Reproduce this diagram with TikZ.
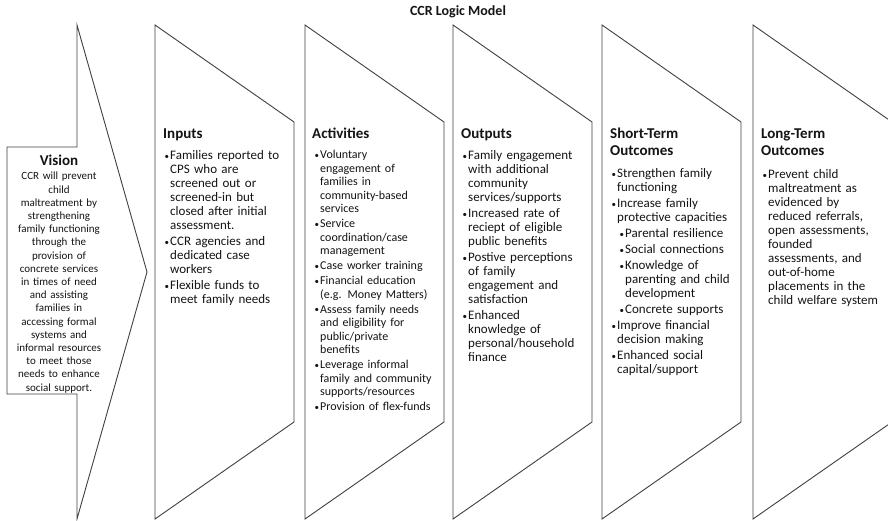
\documentclass[tikz,border=0pt]{standalone}
\usepackage{fontspec}
\setmainfont{Carlito}
\usetikzlibrary{positioning}
\tikzstyle{logicModel} = [x = 1pt, y = -1pt]
\definecolor{lineColor}{RGB}{64,64,64}
\definecolor{textColor}{RGB}{20,20,20}
\tikzstyle{shapeStyle} = [draw=lineColor, line width=0.9pt, fill=white]
\tikzstyle{titleText} = [font=\fontsize{14}{16}\selectfont\bfseries, text=textColor]
\tikzstyle{headText} = [font=\fontsize{15}{17}\selectfont\bfseries, text=textColor, text width=130pt, align=left, inner sep=0pt, anchor=base west]
\tikzstyle{listText} = [font=\fontsize{13}{14}\selectfont, text=textColor, text width=140pt, align=left, inner sep=0pt, anchor=base west, execute at begin node=\setlength{\parskip}{2pt}]
\tikzstyle{visionText} = [font=\fontsize{11}{13.2}\selectfont, text=textColor, text width=100pt, align=center, inner sep=0pt, anchor=base]
\newcommand{\slopeHeight}{97}
\newcommand{\boxWidth}{139}
\newcommand{\chevronBox}[1]{\filldraw [shapeStyle] (#1, 25) -- (#1 + \boxWidth, 25 + \slopeHeight) -- (#1 + \boxWidth, 519 - \slopeHeight) -- (#1, 519) -- cycle;}
\newcommand{\dotMark}{\makebox[6pt][l]{\hspace{0.3pt}\raisebox{0.7pt}{\fontsize{9}{9}\selectfont\textbullet}}}
\newcommand{\modelItem}[1]{\hangindent=6pt\hangafter=1\noindent\dotMark#1\par}
\newcommand{\modelSubItem}[1]{\hangindent=14pt\hangafter=1\noindent\hspace*{8pt}\dotMark#1\par}

\begin{document}
\begin{tikzpicture}[logicModel]
  \useasboundingbox (0, 0) rectangle (888, 521);
  \node [titleText] (title) at (458, 12) {CCR Logic Model};

  % vision arrow and the five columns
  \filldraw [shapeStyle] (7, 147) -- (77, 147) -- (77, 25) -- (147, 272) -- (77, 519) -- (77, 394) -- (7, 394) -- cycle;
  \foreach \boxLeft in {155, 305, 453, 602, 753} {
    \chevronBox{\boxLeft}
  }

  \node [headText, text width=90pt, align=center, anchor=base] (visionHead) at (59, 166) {Vision};
  \node [visionText] (visionBody) at (59, 180) {CCR will prevent\\ child\\ maltreatment by\\ strengthening\\ family functioning\\ through the\\ provision of\\ concrete services\\ in times of need\\ and assisting\\ families in\\ accessing formal\\ systems and\\ informal resources\\ to meet those\\ needs to enhance\\ social support.};

  % inputs
  \node [headText] (inputsHead) at (163, 139) {Inputs};
  \node [listText] (inputsList) at (164, 160) {
    \modelItem{Families reported to\newline CPS who are\newline screened out or\newline screened-in but\newline closed after initial\newline assessment.}
    \modelItem{CCR agencies and\newline dedicated case\newline workers}
    \modelItem{Flexible funds to\newline meet family needs}};

  % activities
  \node [headText] (activitiesHead) at (312, 139) {Activities};
  \node [listText, font=\fontsize{12}{13.5}\selectfont, execute at begin node=\setlength{\parskip}{1.5pt}] (activitiesList) at (314, 159) {
    \modelItem{Voluntary\newline engagement of\newline families in\newline community-based\newline services}
    \modelItem{Service\newline coordination/case\newline management}
    \modelItem{Case worker training}
    \modelItem{Financial education\newline (e.g. Money Matters)}
    \modelItem{Assess family needs\newline and eligibility for\newline public/private\newline benefits}
    \modelItem{Leverage informal\newline family and community\newline supports/resources}
    \modelItem{Provision of flex-funds}};

  % outputs
  \node [headText] (outputsHead) at (461, 139) {Outputs};
  \node [listText] (outputsList) at (462, 160) {
    \modelItem{Family engagement\newline with additional\newline community\newline services/supports}
    \modelItem{Increased rate of\newline reciept of eligible\newline public benefits}
    \modelItem{Postive perceptions\newline of family\newline engagement and\newline satisfaction}
    \modelItem{Enhanced\newline knowledge of\newline personal/household\newline finance}};

  % short-term outcomes
  \node [headText] (shortHead) at (610, 139) {Short-Term\\ Outcomes};
  \node [listText] (shortList) at (611, 178) {
    \modelItem{Strengthen family\newline functioning}
    \modelItem{Increase family\newline protective capacities}
    \modelSubItem{Parental resilience}
    \modelSubItem{Social connections}
    \modelSubItem{Knowledge of\newline parenting and child\newline development}
    \modelSubItem{Concrete supports}
    \modelItem{Improve financial\newline decision making}
    \modelItem{Enhanced social\newline capital/support}};

  % long-term outcomes
  \node [headText] (longHead) at (761, 139) {Long-Term\\ Outcomes};
  \node [listText] (longList) at (762, 179) {
    \modelItem{Prevent child\newline maltreatment as\newline evidenced by\newline reduced referrals,\newline open assessments,\newline founded\newline assessments, and\newline out-of-home\newline placements in the\newline child welfare system}};
\end{tikzpicture}
\end{document}
